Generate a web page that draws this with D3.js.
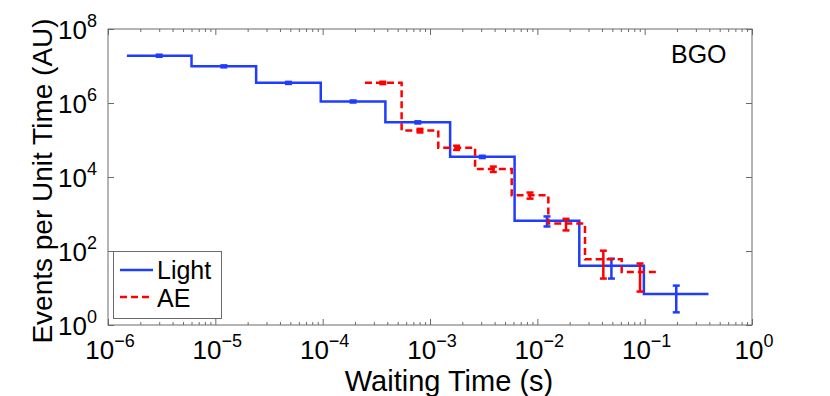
<!DOCTYPE html>
<head>
<meta charset="utf-8">
<title>BGO Waiting Time</title>
<style>
body {
  margin: 0;
  background: #fff;
  font-family: "Liberation Sans", Arial, sans-serif;
}
.frame { fill: none; stroke: #6b6b6b; stroke-width: 1; }
.axis path { display: none; }
.axis line { stroke: #6b6b6b; stroke-width: 1; }
.ticklab { font-size: 26px; fill: #000; }
.lab { font-size: 28px; fill: #000; }
.light { fill: none; stroke: #1f3dff; stroke-width: 2.5; }
.ae { fill: none; stroke: #ff0000; stroke-width: 2.5; stroke-dasharray: 7,4; }
</style>
<script src="https://d3js.org/d3.v7.min.js"></script>
</head>
<body>
<script>
// Light (blue) histogram: bin edges, bin centres, values, errors
var lightEdges   = [1.5e-6, 6.0e-6, 2.4e-5, 9.6e-5, 3.84e-4, 1.54e-3, 6.14e-3, 2.46e-2, 9.83e-2, 3.93e-1];
var lightCenters = [3.0e-6, 1.2e-5, 4.8e-5, 1.92e-4, 7.7e-4, 3.07e-3, 1.23e-2, 4.9e-2, 1.97e-1];
var lightValues  = [1.9e7, 9.8e6, 3.5e6, 1.1e6, 3.0e5, 3.5e4, 660, 40, 6.9];
var lightErrors  = [1.2e6, 6e5, 2.2e5, 7e4, 2e4, 2.5e3, 200, 22, 4.7];

// AE (red dashed) histogram
var aeEdges   = [2.48e-4, 5.44e-4, 1.195e-3, 2.63e-3, 5.77e-3, 1.266e-2, 2.78e-2, 6.11e-2, 1.295e-1];
var aeCenters = [3.63e-4, 8.07e-4, 1.77e-3, 3.89e-3, 8.55e-3, 1.85e-2, 4.12e-2, 9.05e-2];
var aeValues  = [3.5e6, 1.8e5, 6.2e4, 1.64e4, 3.2e3, 550, 60, 27];
var aeErrors  = [2.5e5, 2e4, 8e3, 2.7e3, 600, 190, 42, 19];

// tick exponents
var xTickExp = [-6, -5, -4, -3, -2, -1, 0];
var yTickExp = [0, 2, 4, 6, 8];

var width = 830, height = 396;
var pLeft = 108, pRight = 752, pTop = 29, pBottom = 325;

var svg = d3.select("body").append("svg")
    .attr("width", width)
    .attr("height", height);

var x = d3.scaleLog().domain([1e-6, 1]).range([pLeft, pRight]);
var y = d3.scaleLog().domain([1, 1e8]).range([pBottom, pTop]);

// minor x ticks 2..9 per decade
var xMinor = [];
xTickExp.slice(0, -1).forEach(function(e) {
  for (var k = 2; k <= 9; k++) xMinor.push(k * Math.pow(10, e));
});
var xMajor = xTickExp.map(function(e) { return Math.pow(10, e); });
var yMajor = yTickExp.map(function(e) { return Math.pow(10, e); });

// ticks (inward, on all four sides)
function tickAxis(axis, vals, size, tr) {
  svg.append("g").attr("class", "axis")
    .attr("transform", tr)
    .call(axis.tickValues(vals).tickSize(size).tickFormat(""));
}
tickAxis(d3.axisBottom(x), xMajor, -6, "translate(0," + pBottom + ")");
tickAxis(d3.axisBottom(x), xMinor, -3, "translate(0," + pBottom + ")");
tickAxis(d3.axisTop(x), xMajor, -6, "translate(0," + pTop + ")");
tickAxis(d3.axisTop(x), xMinor, -3, "translate(0," + pTop + ")");
tickAxis(d3.axisLeft(y), yMajor, -6, "translate(" + pLeft + ",0)");
tickAxis(d3.axisRight(y), yMajor, -6, "translate(" + pRight + ",0)");

svg.append("rect").attr("class", "frame")
  .attr("x", pLeft).attr("y", pTop)
  .attr("width", pRight - pLeft).attr("height", pBottom - pTop);

// x tick labels
var xl = svg.selectAll(".xlab").data(xTickExp).enter().append("text")
  .attr("class", "ticklab")
  .attr("text-anchor", "middle")
  .attr("x", function(d) { return x(Math.pow(10, d)) + 2; })
  .attr("y", pBottom + 34);
xl.append("tspan").text("10");
xl.append("tspan").attr("dy", -12).style("font-size", "18px")
  .text(function(d) { return d < 0 ? "\u2212" + (-d) : d; });

// y tick labels
var yl = svg.selectAll(".ylab").data(yTickExp).enter().append("text")
  .attr("class", "ticklab")
  .attr("text-anchor", "end")
  .attr("x", pLeft - 11)
  .attr("y", function(d) { return y(Math.pow(10, d)) + 10; });
yl.append("tspan").text("10");
yl.append("tspan").attr("dy", -12).style("font-size", "18px")
  .text(function(d) { return d; });

// axis labels
svg.append("text").attr("class", "lab")
  .attr("text-anchor", "middle")
  .style("font-size", "29px")
  .attr("x", (pLeft + pRight) / 2 + 19).attr("y", 391)
  .text("Waiting Time (s)");
svg.append("text").attr("class", "lab")
  .attr("text-anchor", "middle")
  .attr("transform", "translate(52," + ((pTop + pBottom) / 2 + 4) + ") rotate(-90)")
  .text("Events per Unit Time (AU)");

svg.append("text").attr("class", "ticklab")
  .style("font-size", "25px")
  .attr("x", 671).attr("y", 63)
  .text("BGO");

// step lines
function stepPoints(edges, vals) {
  var pts = vals.map(function(v, i) { return [edges[i], v]; });
  pts.push([edges[edges.length - 1], vals[vals.length - 1]]);
  return pts;
}
var step = d3.line()
  .x(function(d) { return x(d[0]); })
  .y(function(d) { return y(d[1]); })
  .curve(d3.curveStepAfter);

function errorBars(color, centers, vals, errs) {
  var g = svg.append("g").attr("stroke", color).attr("stroke-width", 2.5);
  centers.forEach(function(c, i) {
    var cx = x(c), hi = y(vals[i] + errs[i]), lo = y(Math.max(vals[i] - errs[i], 1e-3));
    g.append("line").attr("x1", cx).attr("x2", cx).attr("y1", hi).attr("y2", lo);
    g.append("line").attr("x1", cx - 3.5).attr("x2", cx + 3.5).attr("y1", hi).attr("y2", hi);
    g.append("line").attr("x1", cx - 3.5).attr("x2", cx + 3.5).attr("y1", lo).attr("y2", lo);
  });
}

svg.append("path").attr("class", "light")
  .attr("d", step(stepPoints(lightEdges, lightValues)));
errorBars("#1f3dff", lightCenters, lightValues, lightErrors);

svg.append("path").attr("class", "ae")
  .attr("d", step(stepPoints(aeEdges, aeValues)));
errorBars("#ff0000", aeCenters, aeValues, aeErrors);

// legend
var lg = svg.append("g");
lg.append("rect").attr("x", 113.5).attr("y", 251.5).attr("width", 108).attr("height", 67)
  .attr("fill", "#fff").attr("stroke", "#6b6b6b");
lg.append("line").attr("class", "light").attr("x1", 120).attr("x2", 153).attr("y1", 270).attr("y2", 270);
lg.append("line").attr("class", "ae").attr("x1", 120).attr("x2", 153).attr("y1", 297).attr("y2", 297);
lg.append("text").attr("x", 157).attr("y", 279).style("font-size", "25px").text("Light");
lg.append("text").attr("x", 157).attr("y", 307).style("font-size", "25px").text("AE");
</script>
</body>
